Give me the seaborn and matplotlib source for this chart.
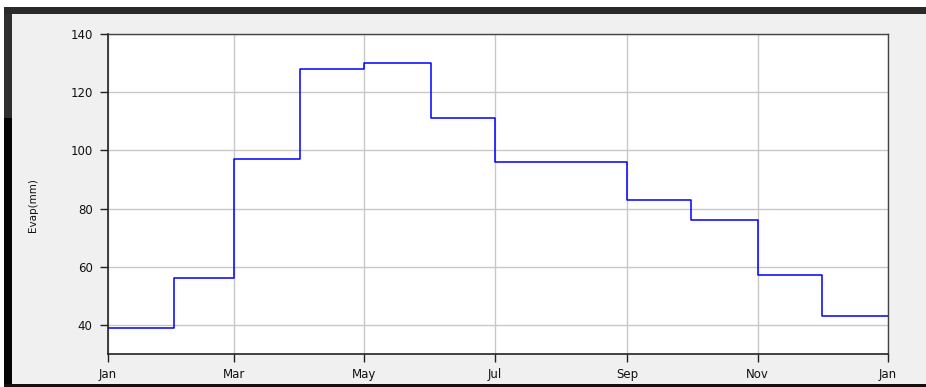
import matplotlib
matplotlib.use("Agg")
import matplotlib.pyplot as plt
from matplotlib.patches import Rectangle
import pandas as pd
import seaborn as sns

# Monthly evaporation totals (mm)
months = ["2001-01-01", "2001-02-01", "2001-03-01", "2001-04-01", "2001-05-01",
          "2001-06-01", "2001-07-01", "2001-08-01", "2001-09-01", "2001-10-01",
          "2001-11-01", "2001-12-01"]
evap_mm = [39, 56, 97, 128, 130, 111, 96, 96, 83, 76, 57, 43]
year_end = "2002-01-01"

tick_dates = ["2001-01-01", "2001-03-01", "2001-05-01", "2001-07-01",
              "2001-09-01", "2001-11-01", "2002-01-01"]
tick_labels = ["Jan", "Mar", "May", "Jul", "Sep", "Nov", "Jan"]
y_ticks = [40, 60, 80, 100, 120, 140]

# Repeat the December value at year end so the final step reaches January
df = pd.DataFrame({
    "date": pd.to_datetime(months + [year_end]),
    "evap": evap_mm + [evap_mm[-1]],
})

sns.set_style("white")
plt.rcParams["font.family"] = ["DejaVu Sans"]

W, H = 926, 387
fig = plt.figure(figsize=(W / 100, H / 100), dpi=100, facecolor="white")


def frame_rect(x, y, w, h, color, z):
    fig.patches.append(Rectangle((x / W, y / H), w / W, h / H, transform=fig.transFigure,
                                 facecolor=color, edgecolor="none", zorder=z))


# Grey panel with dark frame
frame_rect(4, 0, W, H - 7, "#f0f0f0", -3)
frame_rect(4, 0, 8, H - 118, "#050505", -2)
frame_rect(4, H - 118, 8, 111, "#2e2e2e", -2)
frame_rect(4, H - 14, W, 7, "#2a2a2a", -2)
frame_rect(4, 0, W, 3, "#101010", -2)

ax = fig.add_axes([108 / W, 1 - 354 / H, (888 - 108) / W, (354 - 34) / H])
ax.set_zorder(5)
ax.set_facecolor("white")

sns.lineplot(data=df, x="date", y="evap", ax=ax, drawstyle="steps-post",
             color="#0000ff", linewidth=1.1, estimator=None)

ax.set_xlim(pd.Timestamp(months[0]), pd.Timestamp(year_end))
ax.set_ylim(30, 140)
ax.set_xticks(pd.to_datetime(tick_dates))
ax.set_xticklabels(tick_labels)
ax.set_yticks(y_ticks)

ax.grid(True, color="#c8c8c8", linewidth=1.0)
ax.set_axisbelow(True)

for side in ["left", "bottom"]:
    ax.spines[side].set_color("#222222")
    ax.spines[side].set_linewidth(1.2)
for side in ["top", "right"]:
    ax.spines[side].set_color("#444444")
    ax.spines[side].set_linewidth(1.0)

ax.tick_params(axis="both", which="major", direction="out", length=6, width=1,
               color="#222222", labelsize=8.5, labelcolor="#111111",
               left=True, bottom=True)
ax.tick_params(axis="y", pad=5)
ax.tick_params(axis="x", pad=4)

ax.set_xlabel("")
ax.set_ylabel("Evap(mm)", fontsize=7.5, color="#111111")
ax.yaxis.set_label_coords((38 - 108) / 780, 0.465)

fig.savefig("out.png", dpi=100, facecolor=fig.get_facecolor())
